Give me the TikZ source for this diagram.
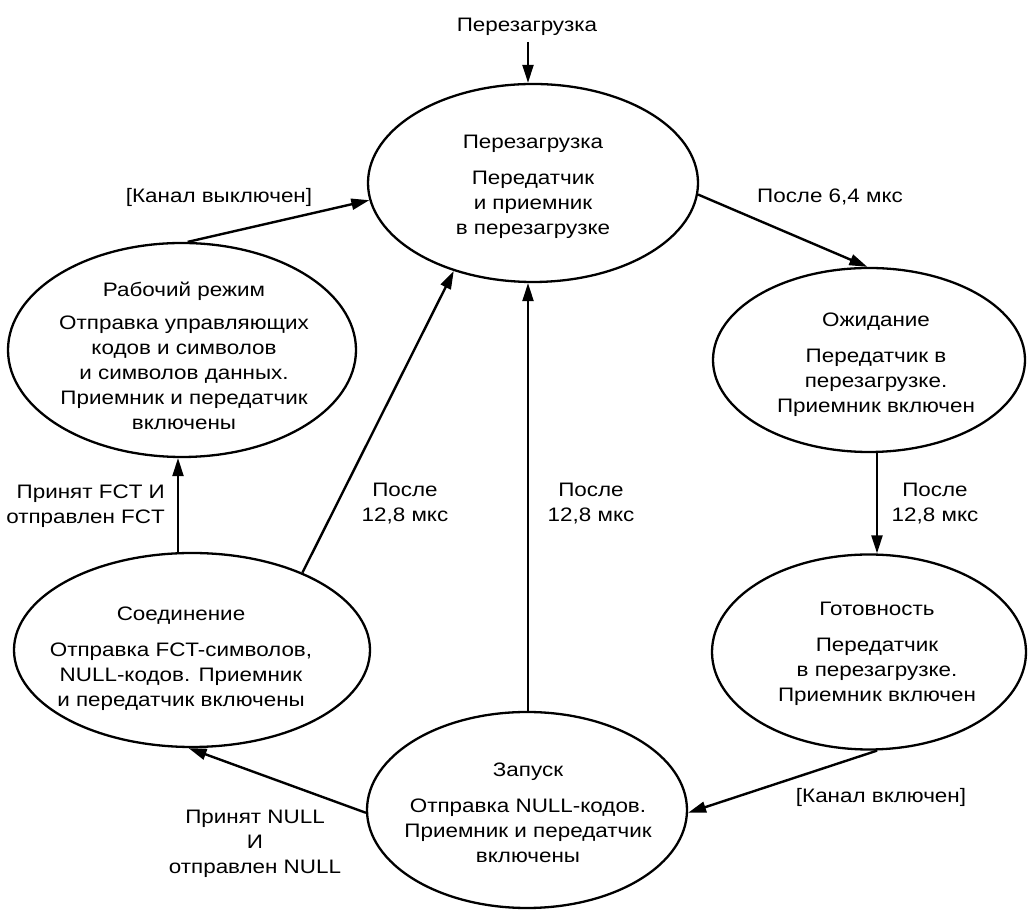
\documentclass[tikz,border=0pt]{standalone}
\usepackage{fontspec}
\setmainfont[FakeStretch=1.15]{Liberation Sans}
\usetikzlibrary{shapes.geometric,arrows.meta}
\begin{document}
\begin{tikzpicture}[x=1pt,y=1pt,
  st/.style={draw, ellipse, line width=2.3pt, inner sep=0pt},
  txt/.style={align=center, inner sep=0pt, anchor=north, font=\fontsize{19.5}{25}\selectfont},
  lbl/.style={inner sep=0pt, anchor=base, font=\fontsize{19.5}{25}\selectfont},
  arr/.style={line width=2.4pt, -{Triangle[length=18pt,width=11pt]}}]
\useasboundingbox (0,0) rectangle (1028,915);
% states
\node[st, minimum width=330pt, minimum height=198pt] (reset) at (533,732) {};
\node[st, minimum width=348pt, minimum height=214pt] (work) at (182,565) {};
\node[st, minimum width=312pt, minimum height=184pt] (wait) at (869,555) {};
\node[st, minimum width=314pt, minimum height=195pt] (ready) at (869,263) {};
\node[st, minimum width=356pt, minimum height=194pt] (conn) at (192,265) {};
\node[st, minimum width=320pt, minimum height=196pt] (start) at (527,105) {};
% state texts
\node[txt] (treset) at (533,780) {Перезагрузка\\[11pt]Передатчик\\и приемник\\в перезагрузке};
\node[txt] (twork) at (184,633) {Рабочий режим\\[8pt]Отправка управляющих\\кодов и символов\\и символов данных.\\Приемник и передатчик\\включены};
\node[txt] (twait) at (876,602) {Ожидание\\[11pt]Передатчик в\\перезагрузке.\\Приемник включен};
\node[txt] (tready) at (877,313) {Готовность\\[11pt]Передатчик\\в перезагрузке.\\Приемник включен};
\node[txt] (tconn) at (181,308) {Соединение\\[11pt]Отправка FCT-символов,\\NULL-кодов. Приемник\\и передатчик включены};
\node[txt] (tstart) at (528,152) {Запуск\\[11pt]Отправка NULL-кодов.\\Приемник и передатчик\\включены};
% labels
\node[lbl] (lreset) at (527,883) {Перезагрузка};
\coordinate (topin) at (528,873);
\node[lbl] (loff) at (219,712) {[Канал выключен]};
\node[lbl] (l64) at (830,712) {После 6,4 мкс};
\node[txt] (lr) at (935,432) {После\\12,8 мкс};
\node[txt] (lm) at (591,432) {После\\12,8 мкс};
\node[txt] (ll) at (405,432) {После\\12,8 мкс};
\node[txt, align=right, anchor=north east] (lfct) at (165,430) {Принят FCT И\\отправлен FCT};
\node[txt] (lnull) at (255,105) {Принят NULL\\И\\отправлен NULL};
\node[lbl] (lon) at (881,112) {[Канал включен]};
% transitions
\draw[arr] (topin) -- (topin |- reset.north);
\draw[arr] (work.87) -- (reset.186);
\draw[arr] (reset.356) -- (wait.91);
\draw[arr] ([xshift=8pt]wait.south) -- ([xshift=8pt]ready.north);
\draw[arr] ([xshift=8pt]ready.south) -- (start.359);
\draw[arr] (start.181) -- (conn.268);
\draw[arr] ([xshift=1pt]start.north) -- ([xshift=1pt]start.north |- reset.south);
\draw[arr] (conn.35) -- (reset.228);
\draw[arr] ([xshift=-14pt]conn.north) -- ([xshift=-14pt]conn.north |- work.south);
\end{tikzpicture}
\end{document}
